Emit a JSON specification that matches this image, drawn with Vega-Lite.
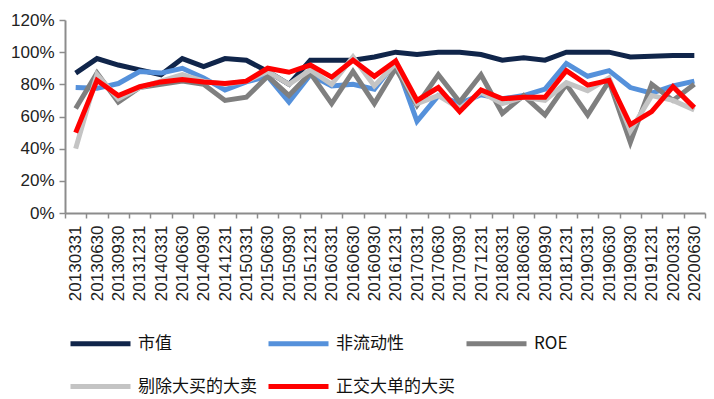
{
  "$schema": "https://vega.github.io/schema/vega-lite/v6.json",
  "width": 640,
  "height": 193,
  "autosize": {"type": "none"},
  "padding": {"left": 65, "top": 20, "right": 9, "bottom": 186},
  "background": "white",
  "config": {"view": {"stroke": null}, "font": "Liberation Sans"},
  "datasets": {
    "raw": [
      {"date": "20130331", "mv": 0.87, "il": 0.78, "roe": 0.65, "ex": 0.40, "orth": 0.50},
      {"date": "20130630", "mv": 0.96, "il": 0.775, "roe": 0.87, "ex": 0.86, "orth": 0.825},
      {"date": "20130930", "mv": 0.92, "il": 0.805, "roe": 0.69, "ex": 0.71, "orth": 0.73},
      {"date": "20131231", "mv": 0.89, "il": 0.88, "roe": 0.78, "ex": 0.78, "orth": 0.785},
      {"date": "20140331", "mv": 0.86, "il": 0.87, "roe": 0.80, "ex": 0.82, "orth": 0.815},
      {"date": "20140630", "mv": 0.96, "il": 0.90, "roe": 0.82, "ex": 0.86, "orth": 0.83},
      {"date": "20140930", "mv": 0.91, "il": 0.84, "roe": 0.80, "ex": 0.82, "orth": 0.815},
      {"date": "20141231", "mv": 0.96, "il": 0.765, "roe": 0.70, "ex": 0.80, "orth": 0.805},
      {"date": "20150331", "mv": 0.95, "il": 0.815, "roe": 0.72, "ex": 0.82, "orth": 0.82},
      {"date": "20150630", "mv": 0.88, "il": 0.85, "roe": 0.85, "ex": 0.88, "orth": 0.90},
      {"date": "20150930", "mv": 0.80, "il": 0.69, "roe": 0.73, "ex": 0.80, "orth": 0.875},
      {"date": "20151231", "mv": 0.95, "il": 0.86, "roe": 0.87, "ex": 0.89, "orth": 0.92},
      {"date": "20160331", "mv": 0.95, "il": 0.79, "roe": 0.68, "ex": 0.80, "orth": 0.845},
      {"date": "20160630", "mv": 0.95, "il": 0.80, "roe": 0.88, "ex": 0.97, "orth": 0.95},
      {"date": "20160930", "mv": 0.97, "il": 0.77, "roe": 0.68, "ex": 0.79, "orth": 0.85},
      {"date": "20161231", "mv": 1.00, "il": 0.94, "roe": 0.90, "ex": 0.93, "orth": 0.945},
      {"date": "20170331", "mv": 0.985, "il": 0.57, "roe": 0.67, "ex": 0.68, "orth": 0.70},
      {"date": "20170630", "mv": 1.00, "il": 0.73, "roe": 0.86, "ex": 0.73, "orth": 0.78},
      {"date": "20170930", "mv": 1.00, "il": 0.68, "roe": 0.69, "ex": 0.65, "orth": 0.63},
      {"date": "20171231", "mv": 0.985, "il": 0.735, "roe": 0.86, "ex": 0.75, "orth": 0.765},
      {"date": "20180331", "mv": 0.95, "il": 0.71, "roe": 0.62, "ex": 0.68, "orth": 0.71},
      {"date": "20180630", "mv": 0.965, "il": 0.73, "roe": 0.73, "ex": 0.72, "orth": 0.72},
      {"date": "20180930", "mv": 0.95, "il": 0.77, "roe": 0.61, "ex": 0.70, "orth": 0.72},
      {"date": "20181231", "mv": 1.00, "il": 0.93, "roe": 0.80, "ex": 0.81, "orth": 0.885},
      {"date": "20190331", "mv": 1.00, "il": 0.85, "roe": 0.61, "ex": 0.76, "orth": 0.795},
      {"date": "20190630", "mv": 1.00, "il": 0.885, "roe": 0.82, "ex": 0.84, "orth": 0.825},
      {"date": "20190930", "mv": 0.97, "il": 0.78, "roe": 0.44, "ex": 0.51, "orth": 0.55},
      {"date": "20191231", "mv": 0.975, "il": 0.745, "roe": 0.80, "ex": 0.73, "orth": 0.63},
      {"date": "20200331", "mv": 0.98, "il": 0.79, "roe": 0.70, "ex": 0.70, "orth": 0.785},
      {"date": "20200630", "mv": 0.98, "il": 0.82, "roe": 0.80, "ex": 0.64, "orth": 0.655}
    ]
  },
  "data": {"name": "raw"},
  "transform": [
    {"fold": ["mv", "il", "roe", "ex", "orth"], "as": ["key", "value"]},
    {"lookup": "key", "from": {"data": {"values": [
      {"key": "mv", "series": "市值"},
      {"key": "il", "series": "非流动性"},
      {"key": "roe", "series": "ROE"},
      {"key": "ex", "series": "剔除大买的大卖"},
      {"key": "orth", "series": "正交大单的大买"}
    ]}, "key": "key", "fields": ["series"]}}
  ],
  "mark": {"type": "line", "strokeWidth": 5, "strokeJoin": "miter"},
  "encoding": {
    "x": {
      "field": "date", "type": "ordinal", "sort": null,
      "scale": {"type": "band", "paddingInner": 0, "paddingOuter": 0},
      "axis": {
        "title": null, "labelAngle": -90, "labelFontSize": 17, "labelColor": "#222",
        "labelPadding": 7, "domainColor": "#8c8c8c", "domainWidth": 2,
        "tickColor": "#8c8c8c", "tickWidth": 1.5, "tickSize": 5, "tickBand": "extent", "grid": false
      }
    },
    "y": {
      "field": "value", "type": "quantitative",
      "scale": {"domain": [0, 1.2], "nice": false},
      "axis": {
        "title": null, "values": [0, 0.2, 0.4, 0.6, 0.8, 1.0, 1.2], "format": ".0%",
        "labelFontSize": 17, "labelColor": "#222", "labelPadding": 5,
        "domainColor": "#8c8c8c", "domainWidth": 2, "tickColor": "#8c8c8c",
        "tickWidth": 1.5, "tickSize": 6, "grid": false
      }
    },
    "color": {
      "field": "series", "type": "nominal",
      "scale": {
        "domain": ["市值", "非流动性", "ROE", "剔除大买的大卖", "正交大单的大买"],
        "range": ["#10254a", "#5591db", "#7f7f7f", "#c4c4c4", "#ff0000"]
      },
      "legend": {
        "title": null, "orient": "none", "legendX": 3, "legendY": 291,
        "direction": "horizontal", "columns": 3,
        "symbolType": "stroke", "symbolSize": 3600, "symbolStrokeWidth": 5,
        "labelFont": "Noto Sans CJK SC", "labelFontSize": 17, "labelColor": "#111",
        "labelOffset": 5, "labelLimit": 300, "columnPadding": 1, "rowPadding": -9
      }
    }
  }
}
